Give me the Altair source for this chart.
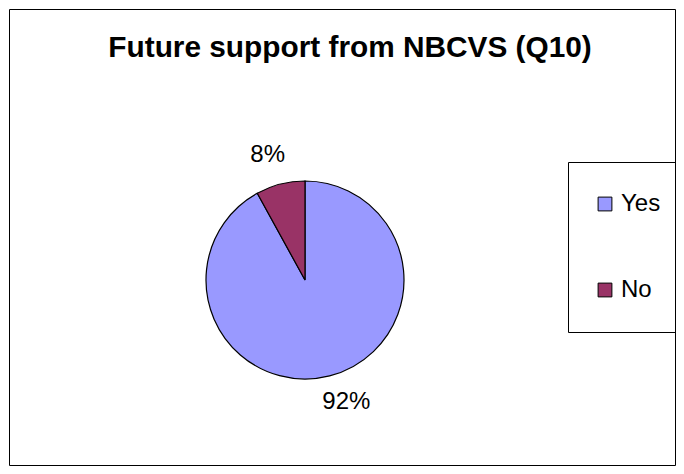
import altair as alt
import pandas as pd

categories = ["Yes", "No"]
values = [92, 8]
labels = ["92%", "8%"]
colors = ["#9999FF", "#993366"]
order = [0, 1]

df = pd.DataFrame({"answer": categories, "pct": values, "label": labels, "ord": order})

W, H = 666, 456
CX, CY = 296, 271
R = 99
FONT = "Liberation Sans"

base = alt.Chart(df)

pie = base.mark_arc(outerRadius=R, stroke="black", strokeWidth=1.2).encode(
    x=alt.value(CX),
    y=alt.value(CY),
    theta=alt.Theta("pct:Q", stack=True),
    order=alt.Order("ord:Q"),
    color=alt.Color(
        "answer:N",
        scale=alt.Scale(domain=categories, range=colors),
        sort=categories,
        legend=alt.Legend(
            title=None,
            orient="none",
            legendX=559,
            legendY=153,
            padding=30,
            rowPadding=62,
            strokeColor="black",
            symbolType="square",
            symbolSize=190,
            symbolStrokeColor="black",
            symbolStrokeWidth=1,
            symbolOpacity=1,
            symbolOffset=-5,
            labelFont=FONT,
            labelFontSize=24,
            labelColor="black",
            labelOffset=4,
        ),
    ),
)

lab = base.transform_stack(
    stack="pct", groupby=[], as_=["s0", "s1"], sort=[alt.SortField("ord")]
).transform_calculate(mid="(datum.s0 + datum.s1) / 2")


def label_layer(name, r, dx, dy):
    return lab.transform_filter(alt.datum.answer == name).mark_text(
        radius=r, dx=dx, dy=dy, font=FONT, fontSize=24, color="black"
    ).encode(
        x=alt.value(CX),
        y=alt.value(CY),
        theta=alt.Theta("mid:Q", scale=alt.Scale(domain=[0, 100])),
        text="label:N",
    )


title = alt.Chart(pd.DataFrame({"t": ["Future support from NBCVS (Q10)"]})).mark_text(
    font=FONT, fontSize=29.8, fontWeight="bold", color="black", baseline="alphabetic"
).encode(x=alt.value(341), y=alt.value(48), text="t:N")

chart = alt.layer(
    pie, label_layer("No", 130, -5, 1), label_layer("Yes", 130, 9, -4), title
).properties(
    width=W, height=H, autosize=alt.AutoSizeParams(type="none"), padding=1
).configure_view(stroke="black", strokeWidth=1)

chart.save("out.html", embed_options={"renderer": "svg", "actions": False})
